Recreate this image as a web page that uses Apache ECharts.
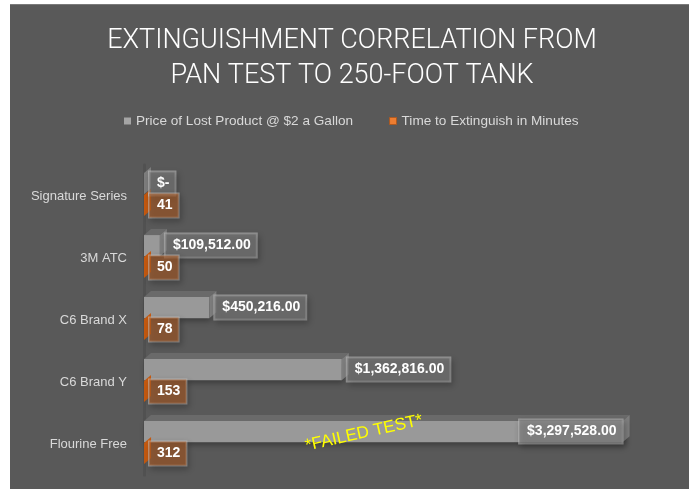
<!DOCTYPE html>
<html><head><meta charset="utf-8">
<script src="https://cdn.jsdelivr.net/npm/echarts@6/dist/echarts.min.js"></script>
<style>
html,body{margin:0;padding:0;background:#ffffff;}
#wrap{position:relative;width:692px;height:489px;overflow:hidden;}
#bg{position:absolute;left:10px;top:4px;width:679px;height:485px;background:#595959;border-top:1px solid #7a7a7a;box-sizing:border-box;}
#c{position:absolute;left:0;top:0;width:692px;height:489px;}
</style>
</head><body>
<div id="wrap"><div id="bg"></div><div id="c"></div></div>
<script>
const categories = ['Signature Series', '3M ATC', 'C6 Brand X', 'C6 Brand Y', 'Flourine Free'];
const priceLost = [0, 109512, 450216, 1362816, 3297528];
const minutesToExtinguish = [41, 50, 78, 153, 312];
const seriesNames = ['Price of Lost Product @ $2 a Gallon', 'Time to Extinguish in Minutes'];
const titleLines = ['EXTINGUISHMENT CORRELATION FROM', 'PAN TEST TO 250-FOOT TANK'];
const annotationText = '*FAILED TEST*';
const xMax = 3500000;

function fmtMoney(v) {
  if (!v) return '$-';
  return '$' + v.toLocaleString('en-US', {minimumFractionDigits: 2, maximumFractionDigits: 2});
}

const DX = 7, DY = 6;
const palette = [
  {front: '#999999', top: '#6a6a6a', side: '#7e7e7e', box: 'rgba(127,127,127,0.58)'},
  {front: '#c55a11', top: '#d9732f', side: '#c55a11', box: 'rgba(173,91,36,0.6)'}
];

function makeRender(kind) {
  return function (params, api) {
    const v = api.value(0), idx = api.value(1);
    const p0 = api.coord([0, idx]);
    const p1 = api.coord([v, idx]);
    const band = api.size([0, 1])[1];
    const c = p0[1];
    const h = band * 0.34;
    const top = kind === 0 ? c - band * 0.37 : c - band * 0.016;
    const x0 = p0[0], x1 = p1[0];
    const col = palette[kind];
    const text = kind === 0 ? fmtMoney(v) : String(v);
    const inside = kind === 0 && v > xMax * 0.8;
    return {
      type: 'group',
      children: [
        {type: 'rect', shape: {x: x0, y: top, width: Math.max(x1 - x0, 0), height: h},
          style: {fill: col.front, shadowBlur: 6, shadowOffsetX: 2, shadowOffsetY: 3, shadowColor: 'rgba(0,0,0,0.35)'}},
        {type: 'polygon', shape: {points: [[x0, top], [x0 + DX, top - DY], [x1 + DX, top - DY], [x1, top]]},
          style: {fill: col.top}},
        {type: 'polygon', shape: {points: [[x1, top], [x1 + DX, top - DY], [x1 + DX, top + h - DY], [x1, top + h]]},
          style: {fill: col.side}},
        {type: 'text', x: inside ? x1 : x1 + 5, y: top + h / 2, z2: 10,
          style: {
            text: text, fill: '#ffffff', font: 'bold 14px "Liberation Sans", Arial, sans-serif',
            align: inside ? 'right' : 'left', verticalAlign: 'middle',
            backgroundColor: col.box, borderColor: 'rgba(200,200,200,0.55)', borderWidth: 1,
            padding: [5, 6, 5, 8],
            shadowBlur: 6, shadowOffsetX: 2, shadowOffsetY: 3, shadowColor: 'rgba(0,0,0,0.35)'
          }}
      ]
    };
  };
}

const chart = echarts.init(document.getElementById('c'), null, {renderer: 'canvas'});
chart.setOption({
  backgroundColor: 'transparent',
  animation: false,
  title: {
    text: titleLines.join('\n'),
    left: 347, textAlign: 'center', top: 19,
    textStyle: {color: '#ffffff', fontSize: 27, fontWeight: 300, fontFamily: 'Roboto, "Liberation Sans", sans-serif', lineHeight: 35}
  },
  legend: {
    top: 109, left: 119,
    itemWidth: 7, itemHeight: 7, itemGap: 36, icon: 'rect',
    data: [
      {name: seriesNames[0], itemStyle: {color: '#a5a5a5'}},
      {name: seriesNames[1], itemStyle: {color: '#ed7d31', borderColor: '#ae5a21', borderWidth: 1}}
    ],
    textStyle: {color: '#d9d9d9', fontSize: 13.6, fontFamily: '"Liberation Sans", sans-serif'}
  },
  grid: {left: 144, right: 40, top: 165, bottom: 14, containLabel: false, outerBoundsMode: 'none'},
  xAxis: {type: 'value', min: 0, max: xMax, show: false},
  yAxis: {
    type: 'category', data: categories, inverse: true,
    axisTick: {show: false},
    axisLine: {show: true, lineStyle: {color: '#515151', width: 3}},
    axisLabel: {color: '#d9d9d9', fontSize: 13, margin: 17, fontFamily: '"Liberation Sans", sans-serif'},
    splitLine: {show: false}
  },
  series: [
    {name: seriesNames[0], type: 'custom', itemStyle: {color: '#a5a5a5'},
      encode: {x: 0, y: 1}, renderItem: makeRender(0),
      data: priceLost.map((v, i) => [v, i])},
    {name: seriesNames[1], type: 'custom', itemStyle: {color: '#ed7d31'},
      encode: {x: 0, y: 1}, renderItem: makeRender(1),
      data: minutesToExtinguish.map((v, i) => [v, i])}
  ],
  graphic: [
    {type: 'text', x: 364, y: 433, rotation: 0.22, z: 100,
      style: {text: annotationText, fill: '#ffff00', font: '17px "Liberation Sans", sans-serif', align: 'center', verticalAlign: 'middle'}}
  ]
});
</script>
</body></html>
